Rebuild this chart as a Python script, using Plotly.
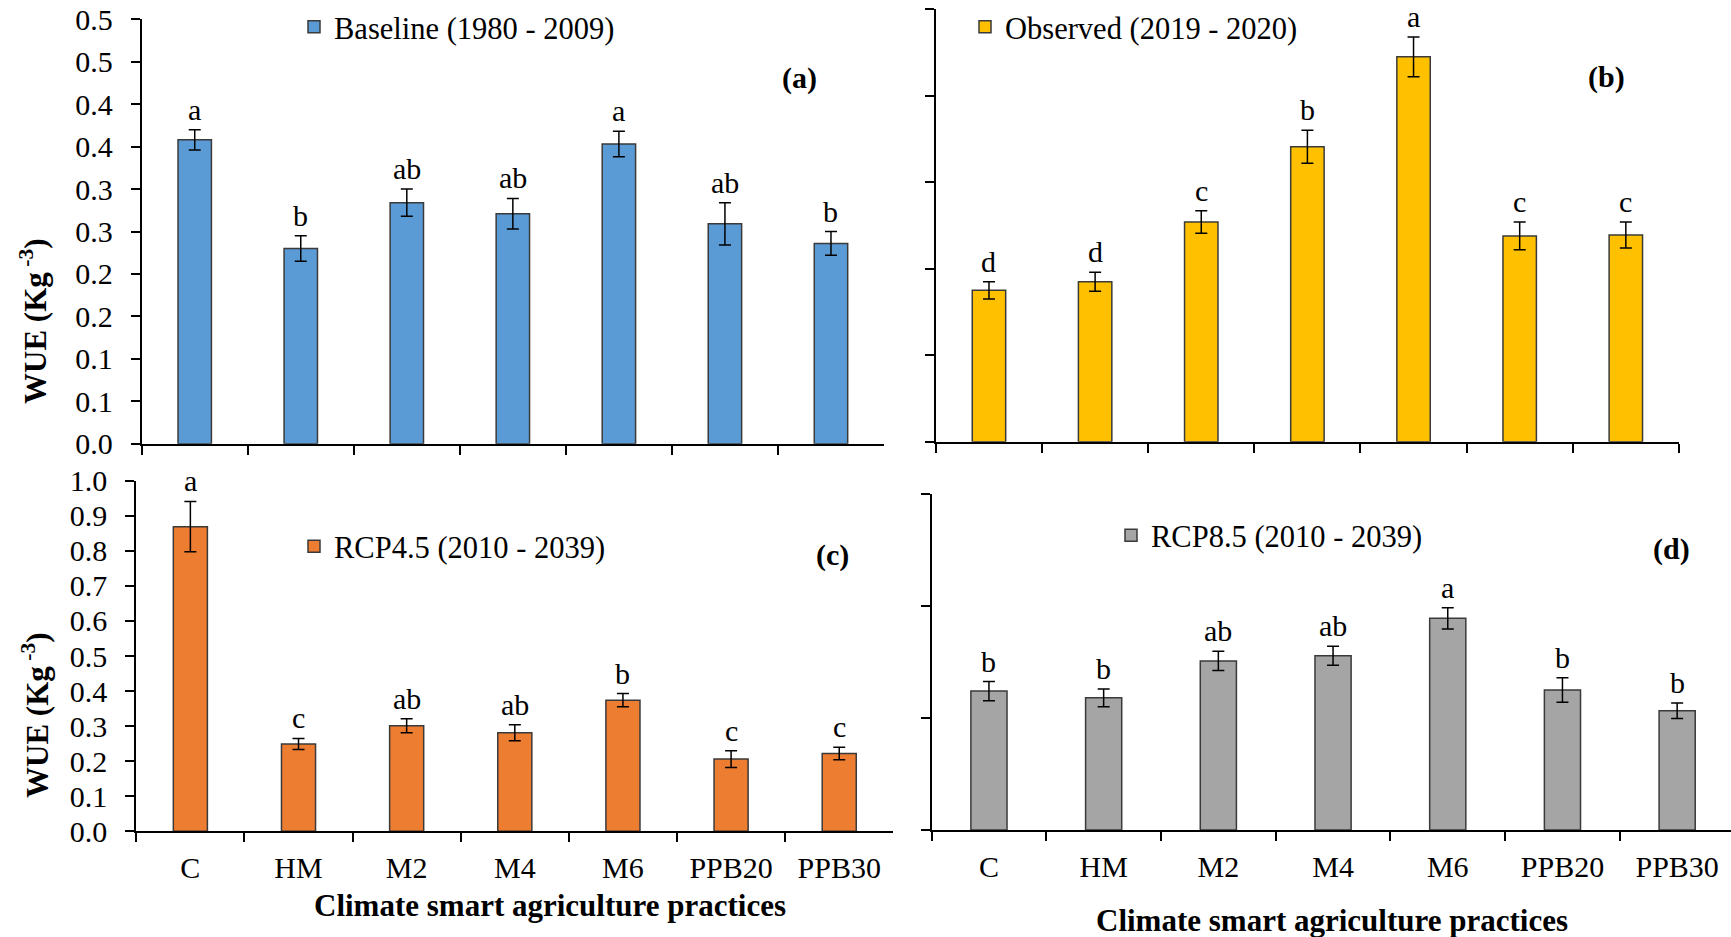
import plotly.graph_objects as go

# ---------------- data ----------------
categories = ["C", "HM", "M2", "M4", "M6", "PPB20", "PPB30"]

baseline = [0.358, 0.230, 0.284, 0.271, 0.353, 0.259, 0.236]
baseline_err = [0.012, 0.015, 0.016, 0.018, 0.015, 0.025, 0.014]
baseline_letters = ["a", "b", "ab", "ab", "a", "ab", "b"]

observed = [0.175, 0.185, 0.254, 0.341, 0.445, 0.238, 0.239]
observed_err = [0.010, 0.011, 0.013, 0.019, 0.023, 0.016, 0.015]
observed_letters = ["d", "d", "c", "b", "a", "c", "c"]

rcp45 = [0.869, 0.249, 0.301, 0.281, 0.374, 0.206, 0.222]
rcp45_err = [0.072, 0.016, 0.020, 0.023, 0.019, 0.024, 0.018]
rcp45_letters = ["a", "c", "ab", "ab", "b", "c", "c"]

rcp85 = [0.248, 0.236, 0.302, 0.311, 0.378, 0.250, 0.213]
rcp85_err = [0.017, 0.016, 0.017, 0.017, 0.019, 0.022, 0.014]
rcp85_letters = ["b", "b", "ab", "ab", "a", "b", "b"]

# y tick values / labels
ticks_a = [0.0, 0.05, 0.1, 0.15, 0.2, 0.25, 0.3, 0.35, 0.4, 0.45, 0.5]
ticklabels_a = ["0.0", "0.1", "0.1", "0.2", "0.2", "0.3", "0.3", "0.4", "0.4", "0.5", "0.5"]
ticks_b = [0.0, 0.1, 0.2, 0.3, 0.4, 0.5]
ticks_c = [0.0, 0.1, 0.2, 0.3, 0.4, 0.5, 0.6, 0.7, 0.8, 0.9, 1.0]
ticklabels_c = ["0.0", "0.1", "0.2", "0.3", "0.4", "0.5", "0.6", "0.7", "0.8", "0.9", "1.0"]
ticks_d = [0.0, 0.2, 0.4, 0.6]

series_names = ["Baseline (1980 - 2009)", "Observed (2019 - 2020)",
                "RCP4.5 (2010 - 2039)", "RCP8.5 (2010 - 2039)"]
panel_tags = ["(a)", "(b)", "(c)", "(d)"]
y_title = "WUE (Kg<sup> -3</sup>)"
x_title = "Climate smart agriculture practices"

# ---------------- layout helpers ----------------
W, H = 1731, 937
FONT = "Liberation Serif"


def fx(p):
    return p / W


def fy(p):
    return 1 - p / H


fig = go.Figure()

panels = [
    dict(vals=baseline, err=baseline_err, letters=baseline_letters, color="#5B9BD5",
         ax="", legend="legend"),
    dict(vals=observed, err=observed_err, letters=observed_letters, color="#FFC000",
         ax="2", legend="legend2"),
    dict(vals=rcp45, err=rcp45_err, letters=rcp45_letters, color="#ED7D31",
         ax="3", legend="legend3"),
    dict(vals=rcp85, err=rcp85_err, letters=rcp85_letters, color="#A5A5A5",
         ax="4", legend="legend4"),
]

annotations = []
for i, p in enumerate(panels):
    xa = "x" + p["ax"]
    ya = "y" + p["ax"]
    fig.add_trace(go.Bar(
        x=categories, y=p["vals"], name=series_names[i],
        xaxis=xa, yaxis=ya, legend=p["legend"], showlegend=True,
        marker=dict(color=p["color"], line=dict(color="#3a3a3a", width=1.5)),
        error_y=dict(type="data", array=p["err"], visible=True,
                     color="black", thickness=1.5, width=6),
    ))
    for c, v, e, lab in zip(categories, p["vals"], p["err"], p["letters"]):
        annotations.append(dict(
            x=c, y=v + e, xref=xa, yref=ya, text=lab, showarrow=False,
            yanchor="bottom", yshift=2,
            font=dict(family=FONT, size=30, color="black")))

axis_common = dict(showline=True, linecolor="black", linewidth=2, ticks="outside",
                   ticklen=9, tickwidth=2, tickcolor="black", showgrid=False,
                   zeroline=False, tickfont=dict(family=FONT, size=30, color="black"))

xdom = {
    "": [fx(141.7), fx(884)],
    "2": [fx(935.9), fx(1678.9)],
    "3": [fx(136.3), fx(893.3)],
    "4": [fx(931.6), 1.0],
}
ydom = {
    "": [fy(443.7), fy(19.3)],
    "2": [fy(441.7), fy(9.3)],
    "3": [fy(831.3), fy(480.7)],
    "4": [fy(830), fy(494)],
}
xrng = {"": [-0.5, 6.5], "2": [-0.5, 6.5], "3": [-0.5, 6.5],
        "4": [-0.5, 6.5 - (1734.5 - 1731) / 114.7]}

layout_axes = {}
for k in ["", "2", "3", "4"]:
    layout_axes["xaxis" + k] = dict(
        axis_common, domain=xdom[k], anchor="y" + k, type="category",
        tickson="boundaries", range=xrng[k],
        showticklabels=(k in ["3", "4"]), ticklabelstandoff=9)

layout_axes["yaxis"] = dict(axis_common, domain=ydom[""], anchor="x", range=[0, 0.5],
                            tickvals=ticks_a, ticktext=ticklabels_a, ticklabelstandoff=12)
layout_axes["yaxis2"] = dict(axis_common, domain=ydom["2"], anchor="x2", range=[0, 0.5],
                             tickvals=ticks_b, showticklabels=False)
layout_axes["yaxis3"] = dict(axis_common, domain=ydom["3"], anchor="x3", range=[0, 1.0],
                             tickvals=ticks_c, ticktext=ticklabels_c, ticklabelstandoff=12)
layout_axes["yaxis4"] = dict(axis_common, domain=ydom["4"], anchor="x4", range=[0, 0.6],
                             tickvals=ticks_d, showticklabels=False)

# panel tags
tag_pos = [(799.2, 78), (1606.5, 76.7), (832.2, 555), (1671, 549.3)]
for t, (px, py) in zip(panel_tags, tag_pos):
    annotations.append(dict(x=fx(px), y=fy(py), xref="paper", yref="paper", text=t,
                            showarrow=False, xanchor="center", yanchor="middle",
                            font=dict(family=FONT, size=30, color="black", weight="bold")))

# y titles
for (px, py) in [(33, 321), (35, 715)]:
    annotations.append(dict(x=fx(px), y=fy(py), xref="paper", yref="paper", text=y_title,
                            textangle=-90, showarrow=False, xanchor="center", yanchor="middle",
                            font=dict(family=FONT, size=31, color="black", weight="bold")))
# x titles
for (px, py) in [(550, 905), (1332.4, 920)]:
    annotations.append(dict(x=fx(px), y=fy(py), xref="paper", yref="paper", text=x_title,
                            showarrow=False, xanchor="center", yanchor="middle",
                            font=dict(family=FONT, size=31, color="black", weight="bold")))

legend_common = dict(xanchor="left", yanchor="middle", bgcolor="rgba(0,0,0,0)",
                     borderwidth=0, itemwidth=30,
                     font=dict(family=FONT, size=30.5, color="black"))
leg_pos = {"legend": (294, 27), "legend2": (965, 27), "legend3": (294, 546.5),
           "legend4": (1111, 535.5)}
for k, (px, py) in leg_pos.items():
    layout_axes[k] = dict(legend_common, x=fx(px), y=fy(py))

fig.update_layout(
    width=W, height=H, margin=dict(l=0, r=0, t=0, b=0, autoexpand=False),
    paper_bgcolor="white", plot_bgcolor="white",
    bargap=0.685, annotations=annotations,
    font=dict(family=FONT, color="black"),
    **layout_axes,
)

fig.write_html("out.html")
